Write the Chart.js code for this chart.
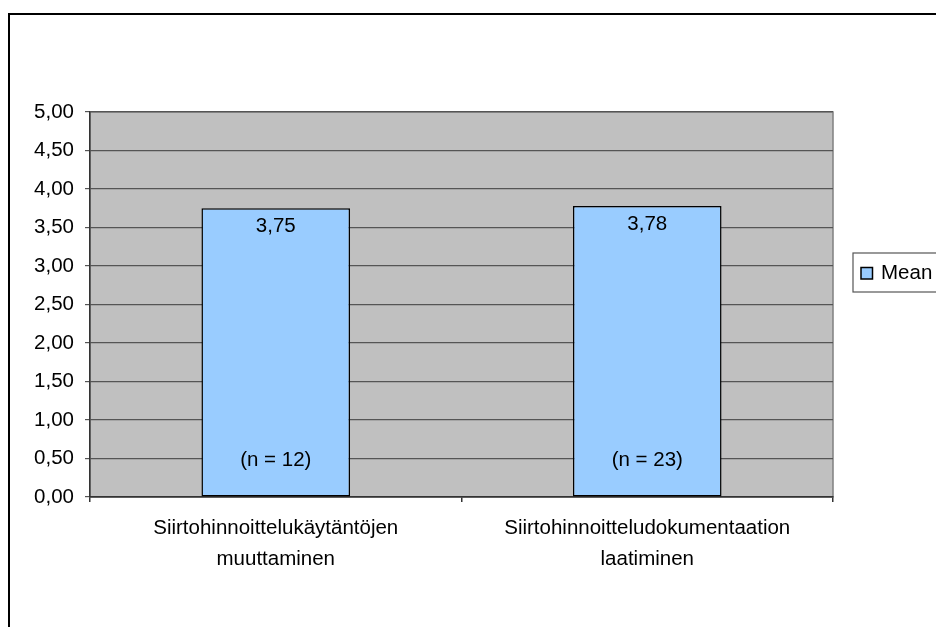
<!DOCTYPE html>
<html>
<head>
<meta charset="utf-8">
<script src="https://cdn.jsdelivr.net/npm/chart.js@4/dist/chart.umd.min.js"></script>
<style>
  html, body { margin: 0; padding: 0; background: #ffffff; }
  #wrap { width: 936px; height: 627px; }
</style>
</head>
<body>
<div id="wrap"><canvas id="c" width="936" height="627"></canvas></div>
<script>
// Categories (two-line axis labels), mean values and respondent counts
const categories = [
  ['Siirtohinnoittelukäytäntöjen', 'muuttaminen'],
  ['Siirtohinnoitteludokumentaation', 'laatiminen']
];
const meanValues = [3.75, 3.78];
const respondentCounts = [12, 23];
const seriesName = 'Mean';

const FONT = "'Liberation Sans', Arial, Helvetica, sans-serif";
const FONT_SIZE = 20.5;
const BAR_FILL = '#99CCFF';
const fmt = v => Number(v).toFixed(2).replace('.', ',');

Chart.defaults.font.family = FONT;
Chart.defaults.font.size = FONT_SIZE;
Chart.defaults.color = '#000000';

// Frame, plot background, value labels and the boxed legend
const decorations = {
  id: 'decorations',
  beforeDraw(chart) {
    const ctx = chart.ctx;
    const a = chart.chartArea;
    ctx.save();
    ctx.fillStyle = '#ffffff';
    ctx.fillRect(0, 0, chart.width, chart.height);
    // outer chart frame
    ctx.strokeStyle = '#000000';
    ctx.lineWidth = 2;
    ctx.beginPath();
    ctx.moveTo(9, chart.height + 2);
    ctx.lineTo(9, 14);
    ctx.lineTo(chart.width + 2, 14);
    ctx.stroke();
    // plot area
    ctx.fillStyle = '#C0C0C0';
    ctx.fillRect(a.left, a.top, a.right - a.left, a.bottom - a.top);
    ctx.strokeStyle = '#808080';
    ctx.lineWidth = 1.5;
    ctx.strokeRect(a.left, a.top, a.right - a.left, a.bottom - a.top);
    ctx.restore();
  },
  afterDatasetsDraw(chart) {
    const ctx = chart.ctx;
    const meta = chart.getDatasetMeta(0);
    ctx.save();
    ctx.fillStyle = '#000000';
    ctx.font = FONT_SIZE + 'px ' + FONT;
    ctx.textAlign = 'center';
    ctx.textBaseline = 'middle';
    meta.data.forEach((bar, i) => {
      ctx.fillText(fmt(meanValues[i]), bar.x, bar.y + 18);
      ctx.fillText('(n = ' + respondentCounts[i] + ')', bar.x, bar.base - 36);
    });
    ctx.restore();
  },
  afterDraw(chart) {
    const ctx = chart.ctx;
    ctx.save();
    // legend box
    ctx.fillStyle = '#ffffff';
    ctx.fillRect(853, 253, 100, 39);
    ctx.strokeStyle = '#555555';
    ctx.lineWidth = 1.2;
    ctx.strokeRect(853, 253, 100, 39);
    // legend swatch
    ctx.fillStyle = BAR_FILL;
    ctx.fillRect(861, 267.5, 11.5, 11.5);
    ctx.strokeStyle = '#000000';
    ctx.lineWidth = 1.5;
    ctx.strokeRect(861, 267.5, 11.5, 11.5);
    // legend text
    ctx.fillStyle = '#000000';
    ctx.font = FONT_SIZE + 'px ' + FONT;
    ctx.textAlign = 'left';
    ctx.textBaseline = 'middle';
    ctx.fillText(seriesName, 881, 273.5);
    ctx.restore();
  }
};

new Chart(document.getElementById('c'), {
  type: 'bar',
  data: {
    labels: categories,
    datasets: [{
      label: seriesName,
      data: meanValues,
      backgroundColor: BAR_FILL,
      borderColor: '#000000',
      borderWidth: 1.5,
      borderSkipped: false,
      categoryPercentage: 1.0,
      barPercentage: 0.4
    }]
  },
  options: {
    responsive: false,
    animation: false,
    devicePixelRatio: 1,
    layout: { padding: { left: 0, top: 112, right: 103, bottom: 0 } },
    plugins: {
      legend: { display: false },
      tooltip: { enabled: false }
    },
    scales: {
      x: {
        offset: true,
        grid: {
          offset: true,
          drawOnChartArea: false,
          drawTicks: true,
          tickLength: 5,
          color: '#333333',
          lineWidth: 1.5
        },
        border: { display: true, color: '#333333', width: 1.5 },
        ticks: {
          padding: 11,
          maxRotation: 0,
          autoSkip: false,
          font: { size: FONT_SIZE, lineHeight: 1.5 },
          color: '#000000'
        },
        afterFit(scale) { scale.height = 130; }
      },
      y: {
        min: 0,
        max: 5,
        ticks: {
          stepSize: 0.5,
          padding: 11,
          callback: v => fmt(v),
          font: { size: FONT_SIZE },
          color: '#000000'
        },
        grid: {
          color: '#555555',
          lineWidth: 1.2,
          drawTicks: true,
          tickLength: 5
        },
        border: { display: true, color: '#333333', width: 1.5 },
        afterFit(scale) { scale.width = 90; }
      }
    }
  },
  plugins: [decorations]
});
</script>
</body>
</html>
